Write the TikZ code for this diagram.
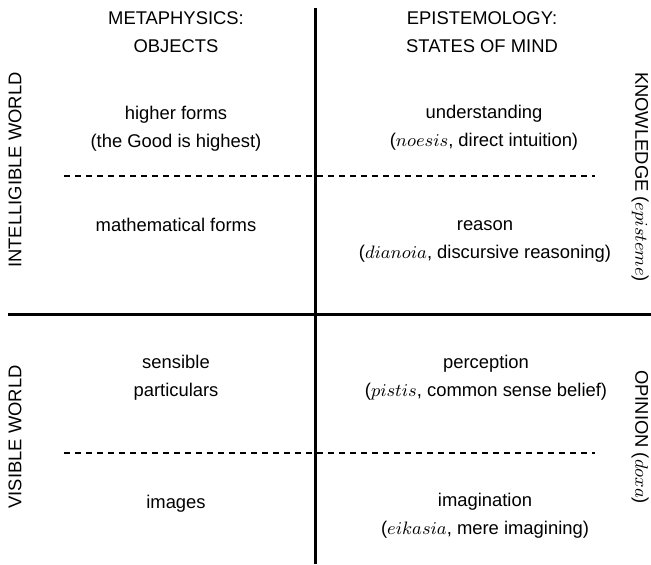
\documentclass[tikz,border=0pt]{standalone}
\usepackage{fontspec}
\setmainfont{Liberation Sans}

\tikzstyle{txt} = [align=center, inner sep=0pt, font=\fontsize{9.2}{14}\selectfont]
\tikzstyle{sidetxt} = [txt]
\tikzstyle{split} = [line width=1.5pt]
\tikzstyle{subsplit} = [line width=1.25pt, dash pattern=on 3pt off 2.5pt]

\begin{document}
\begin{tikzpicture}[x=0.5pt, y=-0.5pt]
\useasboundingbox (0,0) rectangle (651,564);

\coordinate (top) at (315,8);
\coordinate (bottom) at (315,564);
\coordinate (left) at (8,314);
\coordinate (right) at (651,314);
\coordinate (dl1) at (64,176);
\coordinate (dr1) at (595,176);
\coordinate (dl2) at (64,453);
\coordinate (dr2) at (595,453);

\node [txt] (meta) at (176,32) {METAPHYSICS:\\OBJECTS};
\node [txt] (epis) at (482,32) {EPISTEMOLOGY:\\STATES OF MIND};

\node [txt] (forms) at (176,129) {higher forms\\(the Good is highest)};
\node [txt] (under) at (484,128) {understanding\\($noesis$, direct intuition)};
\node [txt] (math) at (176,225) {mathematical forms};
\node [txt] (reason) at (485,241) {reason\\($dianoia$, discursive reasoning)};
\node [txt] (sens) at (176,378) {sensible\\particulars};
\node [txt] (perc) at (486,378) {perception\\($pistis$, common sense belief)};
\node [txt] (imgs) at (176,504) {images};
\node [txt] (imag) at (485,516) {imagination\\($eikasia$, mere imagining)};

\node [sidetxt, rotate=90] (intel) at (15,170) {INTELLIGIBLE WORLD};
\node [sidetxt, rotate=90] (visib) at (15,437) {VISIBLE WORLD};
\node [sidetxt, rotate=-90] (know) at (640,177) {KNOWLEDGE ($episteme$)};
\node [sidetxt, rotate=-90] (opin) at (640,437) {OPINION ($doxa$)};

\draw [split] (top) -- (bottom);
\draw [split] (left) -- (right);
\draw [subsplit] (dl1) -- (dr1);
\draw [subsplit] (dl2) -- (dr2);
\end{tikzpicture}
\end{document}
